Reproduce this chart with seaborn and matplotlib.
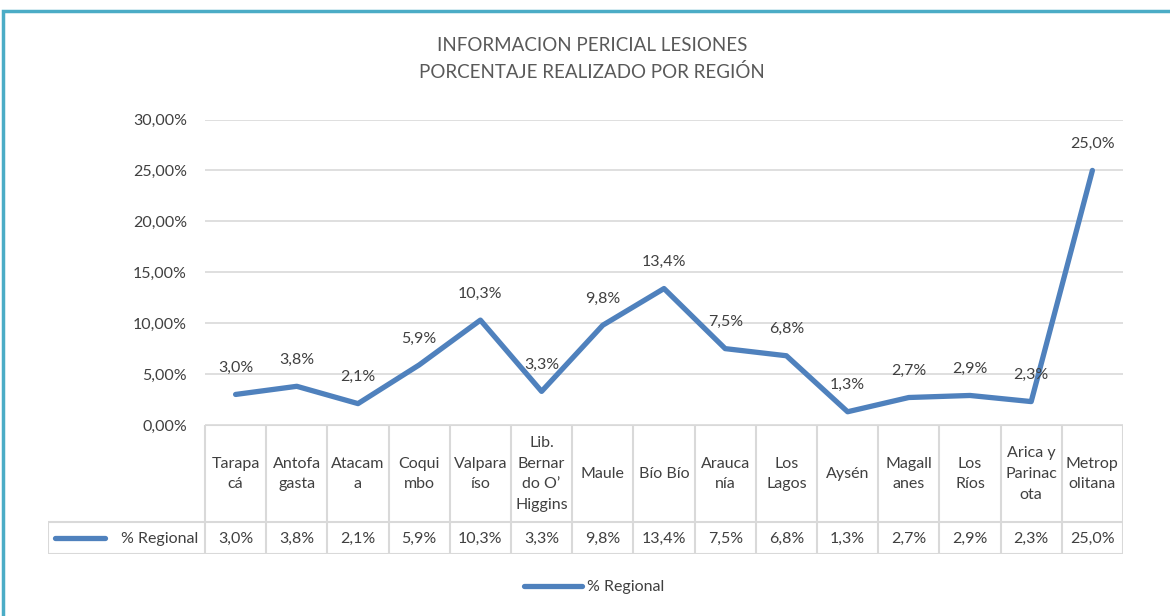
import matplotlib as mpl
import pandas as pd
import seaborn as sns
import matplotlib.pyplot as plt
from matplotlib.patches import Rectangle
from matplotlib.lines import Line2D

# data
regiones = ['Tarapa\ncá', 'Antofa\ngasta', 'Atacam\na', 'Coqui\nmbo', 'Valpara\níso',
            'Lib.\nBernar\ndo O’\nHiggins', 'Maule', 'Bío Bío', 'Arauca\nnía', 'Los\nLagos',
            'Aysén', 'Magall\nanes', 'Los\nRíos', 'Arica y\nParinac\nota', 'Metrop\nolitana']
porcentaje = [3.0, 3.8, 2.1, 5.9, 10.3, 3.3, 9.8, 13.4, 7.5, 6.8, 1.3, 2.7, 2.9, 2.3, 25.0]
serie = '% Regional'
titulo = 'INFORMACION PERICIAL LESIONES\nPORCENTAJE REALIZADO POR REGIÓN'
yticks = [0, 5, 10, 15, 20, 25, 30]

AZUL = '#4f81bd'
GRIS = '#d9d9d9'
TXT = '#404040'
FS = 11.5


def pct(v, dec=1):
    return f'{v:.{dec}f}'.replace('.', ',') + '%'


def main():
    sns.set_style('white')
    plt.rcParams['font.family'] = ['Lato', 'DejaVu Sans']

    W, H = 1170, 616
    fig = plt.figure(figsize=(W / 100, H / 100), dpi=100)

    # marco exterior
    fig.add_artist(Rectangle((3 / W, -0.05), 1.2, 1 - 11 / H + 0.05, transform=fig.transFigure,
                             fill=False, edgecolor='#4bacc6', linewidth=2.5))

    x0, x1 = 205, 1123
    ytop, ybot = 119.5, 425
    ax = fig.add_axes([x0 / W, 1 - ybot / H, (x1 - x0) / W, (ybot - ytop) / H])

    df = pd.DataFrame({'idx': range(len(porcentaje)), 'valor': porcentaje})
    sns.lineplot(data=df, x='idx', y='valor', ax=ax, color=AZUL, linewidth=3.8,
                 label=serie, legend=False)

    for i, v in zip(df['idx'], df['valor']):
        ax.annotate(pct(v), (i, v), xytext=(0, 14), textcoords='offset points',
                    ha='center', va='bottom', fontsize=FS, color=TXT)

    ax.set_xlim(-0.5, len(porcentaje) - 0.5)
    ax.set_ylim(0, 30)
    ax.set_yticks(yticks)
    ax.set_yticklabels([pct(t, 2) for t in yticks], fontsize=FS, color=TXT)
    ax.set_xticks([])
    ax.set_xlabel('')
    ax.set_ylabel('')
    ax.tick_params(axis='y', length=0, pad=13)
    ax.grid(axis='y', color=GRIS, linewidth=1.2)
    ax.set_axisbelow(True)
    for s in ax.spines.values():
        s.set_visible(False)

    # tabla de datos
    tl = 48
    unit = (x1 - x0) / len(porcentaje)
    tax = fig.add_axes([tl / W, 1 - 554 / H, (x1 - tl) / W, (554 - 425) / H])
    tax.set_xlim(-0.5 - (x0 - tl) / unit, len(porcentaje) - 0.5)
    tax.set_ylim(554, 425)
    tax.axis('off')
    lk = dict(color=GRIS, linewidth=1.5, solid_capstyle='butt')
    n = len(porcentaje)
    xl = tax.get_xlim()[0]
    tax.plot([-0.5, n - 0.5], [425, 425], **lk)
    tax.plot([xl, n - 0.5], [522, 522], **lk)
    tax.plot([xl, n - 0.5], [554, 554], **lk)
    tax.plot([xl, xl], [522, 554], **lk)
    for k in range(n + 1):
        tax.plot([k - 0.5, k - 0.5], [425, 554], **lk)
    for i, (r, v) in enumerate(zip(regiones, porcentaje)):
        tax.text(i, 474, r, ha='center', va='center', fontsize=FS, color=TXT,
                 linespacing=1.62)
        tax.text(i, 538.5, pct(v), ha='center', va='center', fontsize=FS, color=TXT)
    tax.plot([xl + 7 / unit, xl + 57 / unit], [538, 538], color=AZUL, linewidth=3.8,
             solid_capstyle='round')
    tax.text(-0.5 - 7 / unit, 538.5, serie, ha='right', va='center', fontsize=FS, color=TXT)

    # titulo
    fig.text(592 / W, 1 - 59 / H, titulo, ha='center', va='center', fontsize=13.5,
             color='#595959', linespacing=1.6)

    # leyenda
    h = Line2D([], [], color=AZUL, linewidth=3.8, solid_capstyle='round')
    fig.legend([h], [serie], loc='center', bbox_to_anchor=(594 / W, 1 - 587 / H),
               frameon=False, handlelength=3.6, handletextpad=0.3, fontsize=FS,
               labelcolor=TXT)

    plt.savefig('out.png', dpi=100)


if __name__ == '__main__':
    main()
